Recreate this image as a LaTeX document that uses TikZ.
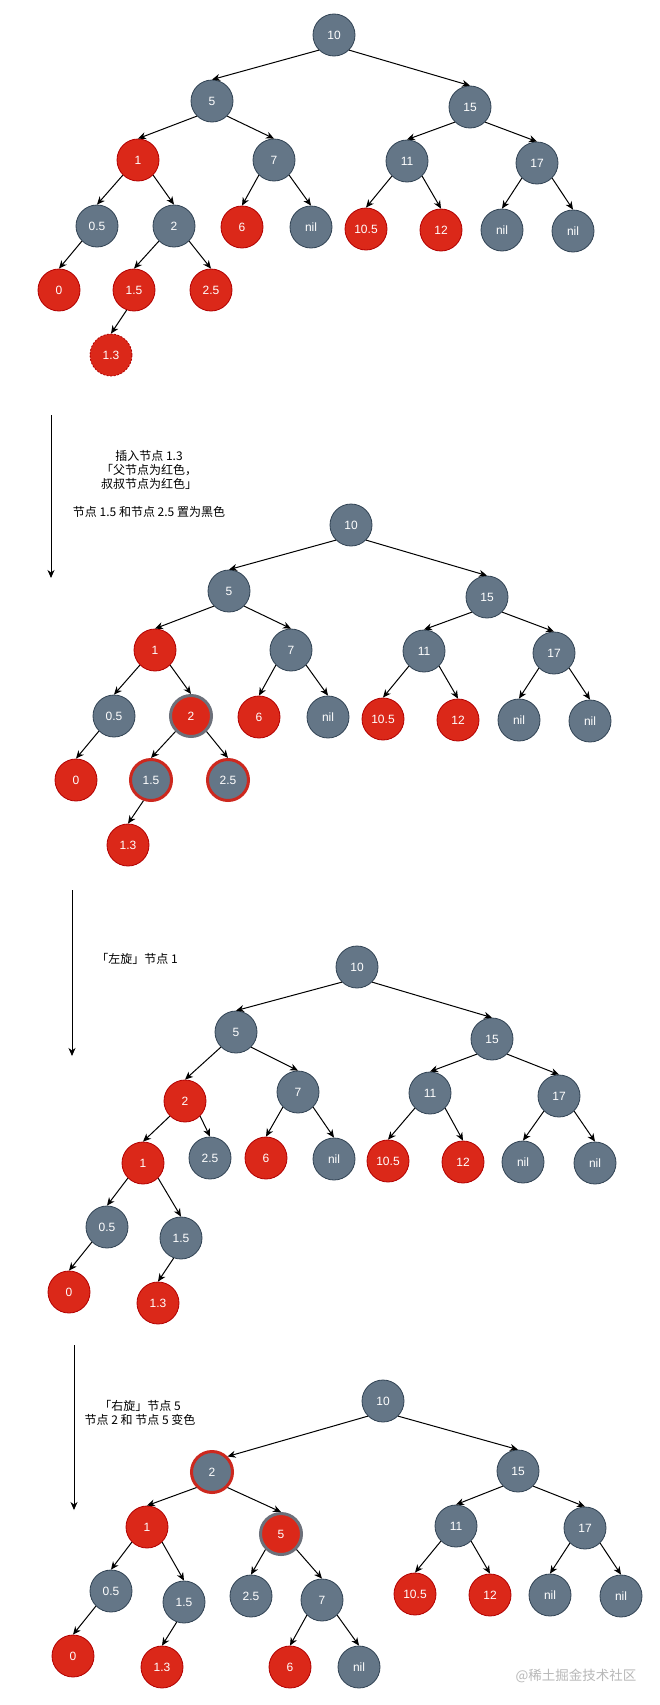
\documentclass[tikz,border=0pt]{standalone}
\usepackage{fontspec}
\setmainfont{Liberation Sans}
\newfontfamily\cjk{Noto Sans CJK SC}
\usetikzlibrary{arrows.meta}
\definecolor{rbblack}{HTML}{647687}
\definecolor{rbblackline}{HTML}{314354}
\definecolor{rbred}{RGB}{219,40,25}
\definecolor{rbredline}{HTML}{B20000}
\definecolor{rbring}{RGB}{205,40,30}
\definecolor{rbgray}{RGB}{108,112,122}
\begin{document}
\begin{tikzpicture}[x=1pt,y=-1pt,
  bnode/.style={circle,minimum size=42pt,inner sep=0pt,fill=rbblack,draw=rbblackline,
    line width=.8pt,text=white,font=\fontsize{12}{12}\selectfont},
  rnode/.style={bnode,fill=rbred,draw=rbredline},
  redring/.style={bnode,draw=rbring,line width=3pt,minimum size=41pt},
  grayring/.style={rnode,draw=rbgray,line width=3pt,minimum size=41pt},
  newnode/.style={rnode,dashed,dash pattern=on 2pt off 1.5pt},
  edge/.style={line width=1pt,-{Stealth[length=8pt,width=7pt,inset=2.5pt]}},
  note/.style={font=\cjk\fontsize{12}{14}\selectfont,align=center}]
  \useasboundingbox[fill=white] (0,0) rectangle (659,1705);
  % tree 1: 1.3 inserted
  \node[bnode] (a10) at (334,35) {10};
  \node[bnode] (a5) at (212,101) {5};
  \node[bnode] (a15) at (470,107) {15};
  \node[rnode] (a1) at (138,160) {1};
  \node[bnode] (a7) at (274,160) {7};
  \node[bnode] (a11) at (407,161) {11};
  \node[bnode] (a17) at (537,163) {17};
  \node[bnode] (a0p5) at (97,226) {0.5};
  \node[bnode] (a2) at (174,226) {2};
  \node[rnode] (a6) at (242,227) {6};
  \node[bnode] (an1) at (311,227) {nil};
  \node[rnode] (a10p5) at (366,229) {10.5};
  \node[rnode] (a12) at (441,230) {12};
  \node[bnode] (an2) at (502,230) {nil};
  \node[bnode] (an3) at (573,231) {nil};
  \node[rnode] (a0) at (59,290) {0};
  \node[rnode] (a1p5) at (134,290) {1.5};
  \node[rnode] (a2p5) at (211,290) {2.5};
  \node[newnode] (a1p3) at (111,355) {1.3};
  % tree 2: recolour
  \begin{scope}[shift={(17,490)}]
    \node[bnode] (b10) at (334,35) {10};
    \node[bnode] (b5) at (212,101) {5};
    \node[bnode] (b15) at (470,107) {15};
    \node[rnode] (b1) at (138,160) {1};
    \node[bnode] (b7) at (274,160) {7};
    \node[bnode] (b11) at (407,161) {11};
    \node[bnode] (b17) at (537,163) {17};
    \node[bnode] (b0p5) at (97,226) {0.5};
    \node[grayring] (b2) at (174,226) {2};
    \node[rnode] (b6) at (242,227) {6};
    \node[bnode] (bn1) at (311,227) {nil};
    \node[rnode] (b10p5) at (366,229) {10.5};
    \node[rnode] (b12) at (441,230) {12};
    \node[bnode] (bn2) at (502,230) {nil};
    \node[bnode] (bn3) at (573,231) {nil};
    \node[rnode] (b0) at (59,290) {0};
    \node[redring] (b1p5) at (134,290) {1.5};
    \node[redring] (b2p5) at (211,290) {2.5};
    \node[rnode] (b1p3) at (111,355) {1.3};
  \end{scope}
  \foreach \t in {a,b} {
    \foreach \p/\c in {10/5,5/1,15/11,1/0p5,7/6,11/10p5,17/n2,0p5/0,2/1p5}
      \draw[edge] (\t\p.south west) -- (\t\c.north);
    \foreach \p/\c in {10/15,5/7,15/17,1/2,7/n1,11/12,17/n3,2/2p5}
      \draw[edge] (\t\p.south east) -- (\t\c.north);
    \draw[edge] (\t1p5.250) -- (\t1p3.north);
  }
  % tree 3: rotate left at 1
  \node[bnode] (c10) at (357,967) {10};
  \node[bnode] (c5) at (236,1032) {5};
  \node[bnode] (c15) at (492,1039) {15};
  \node[rnode] (c2) at (185,1101) {2};
  \node[bnode] (c7) at (298,1092) {7};
  \node[bnode] (c11) at (430,1093) {11};
  \node[bnode] (c17) at (559,1096) {17};
  \node[rnode] (c1) at (143,1163) {1};
  \node[bnode] (c2p5) at (210,1158) {2.5};
  \node[rnode] (c6) at (266,1158) {6};
  \node[bnode] (cn1) at (334,1159) {nil};
  \node[rnode] (c10p5) at (388,1161) {10.5};
  \node[rnode] (c12) at (463,1162) {12};
  \node[bnode] (cn2) at (523,1162) {nil};
  \node[bnode] (cn3) at (595,1163) {nil};
  \node[bnode] (c0p5) at (107,1227) {0.5};
  \node[bnode] (c1p5) at (181,1238) {1.5};
  \node[rnode] (c0) at (69,1292) {0};
  \node[rnode] (c1p3) at (158,1303) {1.3};
  \foreach \p/\c in {10/5,5/2,15/11,2/1,7/6,11/10p5,17/n2,1/0p5,0p5/0}
    \draw[edge] (c\p.south west) -- (c\c.north);
  \foreach \p/\c in {10/15,5/7,15/17,2/2p5,7/n1,11/12,17/n3,1/1p5}
    \draw[edge] (c\p.south east) -- (c\c.north);
  \draw[edge] (c1p5.250) -- (c1p3.north);
  % tree 4: rotate right at 5
  \node[bnode] (d10) at (383,1401) {10};
  \node[redring] (d2) at (212,1472) {2};
  \node[bnode] (d15) at (518,1471) {15};
  \node[rnode] (d1) at (147,1527) {1};
  \node[grayring] (d5) at (281,1534) {5};
  \node[bnode] (d11) at (456,1526) {11};
  \node[bnode] (d17) at (585,1528) {17};
  \node[bnode] (d0p5) at (111,1591) {0.5};
  \node[bnode] (d1p5) at (184,1602) {1.5};
  \node[bnode] (d2p5) at (251,1596) {2.5};
  \node[bnode] (d7) at (322,1600) {7};
  \node[rnode] (d10p5) at (415,1594) {10.5};
  \node[rnode] (d12) at (490,1595) {12};
  \node[bnode] (dn1) at (550,1595) {nil};
  \node[bnode] (dn2) at (621,1596) {nil};
  \node[rnode] (d0) at (73,1656) {0};
  \node[rnode] (d1p3) at (162,1667) {1.3};
  \node[rnode] (d6) at (290,1667) {6};
  \node[bnode] (dn3) at (359,1667) {nil};
  \foreach \p/\c in {2/1,15/11,1/0p5,5/2p5,11/10p5,17/n1,0p5/0,7/6}
    \draw[edge] (d\p.south west) -- (d\c.north);
  \foreach \p/\c in {10/15,2/5,15/17,1/1p5,5/7,11/12,17/n2,7/n3}
    \draw[edge] (d\p.south east) -- (d\c.north);
  \draw[edge] (d10.south west) -- (d2.north east);
  \draw[edge] (d1p5.250) -- (d1p3.north);
  % step arrows and notes
  \coordinate (s1) at (51,415); \coordinate (e1) at (51,578);
  \coordinate (s2) at (72,890); \coordinate (e2) at (72,1056);
  \coordinate (s3) at (74,1345); \coordinate (e3) at (74,1510);
  \foreach \i in {1,2,3} \draw[edge] (s\i) -- (e\i);
  \node[note] (t1) at (149,484) {插入节点 1.3\\「父节点为红色，\\叔叔节点为红色」\\[14pt]节点 1.5 和节点 2.5 置为黑色};
  \node[note] (t2) at (137,959) {「左旋」节点 1};
  \node[note] (t3) at (140,1413) {「右旋」节点 5\\节点 2 和 节点 5 变色};
  \node[font=\cjk\fontsize{13.5}{13.5}\selectfont,text=black!28] (mark) at (576,1676) {@稀土掘金技术社区};
\end{tikzpicture}
\end{document}
